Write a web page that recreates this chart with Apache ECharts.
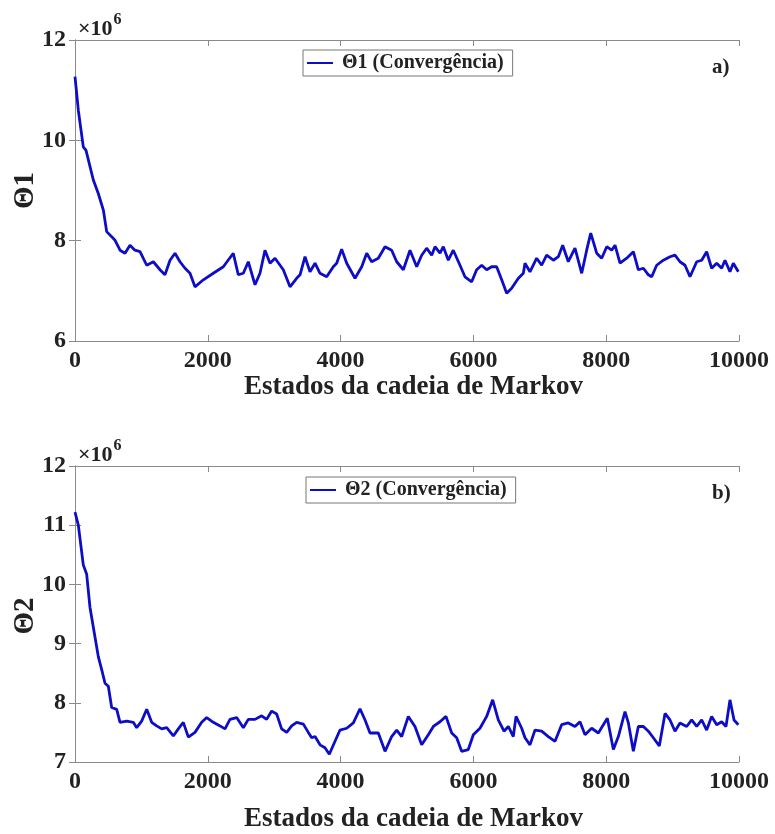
<!DOCTYPE html>
<html>
<head>
<meta charset="utf-8">
<script src="https://cdn.jsdelivr.net/npm/echarts@6/dist/echarts.min.js"></script>
<style>
  html, body { margin: 0; padding: 0; background: #fff; }
  #chart { width: 775px; height: 834px; }
</style>
</head>
<body>
<div id="chart"></div>
<script>
// Markov chain states (x) and parameter traces (values in units of 1e6)
const theta1States = [0, 50, 125, 166, 276, 351, 427, 477, 552, 602, 678, 753, 828, 903, 979, 1080, 1180, 1280, 1355, 1431, 1506, 1581, 1657, 1732, 1807, 1933, 2083, 2234, 2384, 2459, 2535, 2610, 2711, 2786, 2861, 2937, 3012, 3137, 3238, 3338, 3389, 3464, 3539, 3615, 3690, 3790, 3890, 3941, 4016, 4092, 4217, 4318, 4393, 4468, 4568, 4669, 4769, 4845, 4945, 5045, 5146, 5221, 5296, 5372, 5422, 5497, 5547, 5622, 5697, 5798, 5873, 5974, 6049, 6125, 6200, 6275, 6350, 6426, 6501, 6576, 6677, 6752, 6777, 6852, 6953, 7028, 7103, 7204, 7279, 7345, 7429, 7530, 7631, 7706, 7767, 7857, 7932, 8008, 8083, 8133, 8208, 8309, 8409, 8484, 8560, 8635, 8685, 8760, 8861, 8961, 9036, 9111, 9187, 9262, 9363, 9438, 9513, 9588, 9664, 9739, 9789, 9864, 9914, 9990];
const theta1Values = [11.27, 10.6, 9.87, 9.8, 9.21, 8.94, 8.61, 8.18, 8.08, 8.01, 7.81, 7.75, 7.91, 7.81, 7.78, 7.51, 7.58, 7.42, 7.32, 7.61, 7.75, 7.58, 7.45, 7.35, 7.08, 7.22, 7.35, 7.48, 7.75, 7.32, 7.35, 7.58, 7.12, 7.35, 7.81, 7.55, 7.65, 7.42, 7.08, 7.25, 7.32, 7.68, 7.38, 7.55, 7.35, 7.28, 7.48, 7.55, 7.83, 7.55, 7.25, 7.48, 7.75, 7.58, 7.65, 7.88, 7.81, 7.58, 7.42, 7.81, 7.48, 7.71, 7.85, 7.71, 7.88, 7.75, 7.88, 7.61, 7.81, 7.51, 7.28, 7.18, 7.42, 7.51, 7.42, 7.48, 7.48, 7.22, 6.95, 7.05, 7.25, 7.35, 7.55, 7.38, 7.65, 7.51, 7.71, 7.61, 7.68, 7.91, 7.58, 7.85, 7.35, 7.81, 8.15, 7.75, 7.65, 7.88, 7.81, 7.91, 7.55, 7.65, 7.78, 7.42, 7.45, 7.32, 7.28, 7.51, 7.61, 7.68, 7.71, 7.58, 7.51, 7.28, 7.58, 7.61, 7.78, 7.45, 7.55, 7.45, 7.61, 7.38, 7.55, 7.38];

const theta2States = [0, 50, 125, 176, 226, 301, 351, 402, 452, 502, 552, 628, 678, 778, 878, 929, 1004, 1080, 1155, 1230, 1306, 1381, 1481, 1556, 1631, 1707, 1807, 1908, 1983, 2083, 2184, 2259, 2334, 2435, 2535, 2610, 2711, 2811, 2886, 2962, 3037, 3112, 3188, 3263, 3338, 3439, 3514, 3565, 3615, 3690, 3765, 3830, 3916, 3991, 4092, 4192, 4292, 4368, 4443, 4568, 4669, 4769, 4845, 4920, 5020, 5120, 5221, 5321, 5397, 5497, 5587, 5673, 5748, 5823, 5923, 5999, 6099, 6200, 6290, 6375, 6461, 6526, 6601, 6642, 6727, 6777, 6852, 6928, 7028, 7128, 7229, 7329, 7429, 7530, 7605, 7681, 7781, 7882, 7957, 8017, 8108, 8183, 8283, 8334, 8409, 8484, 8560, 8635, 8710, 8800, 8886, 8961, 9036, 9111, 9212, 9287, 9363, 9438, 9513, 9588, 9664, 9739, 9804, 9864, 9925, 9990];
const theta2Values = [11.22, 11.0, 10.33, 10.17, 9.61, 9.11, 8.78, 8.56, 8.33, 8.28, 7.92, 7.89, 7.67, 7.69, 7.67, 7.58, 7.69, 7.89, 7.67, 7.61, 7.56, 7.58, 7.44, 7.56, 7.67, 7.42, 7.5, 7.67, 7.75, 7.67, 7.61, 7.56, 7.72, 7.75, 7.58, 7.72, 7.72, 7.78, 7.72, 7.86, 7.81, 7.56, 7.5, 7.61, 7.67, 7.64, 7.5, 7.41, 7.43, 7.29, 7.24, 7.13, 7.35, 7.54, 7.57, 7.66, 7.9, 7.71, 7.49, 7.49, 7.18, 7.43, 7.54, 7.43, 7.77, 7.6, 7.29, 7.46, 7.6, 7.68, 7.77, 7.49, 7.41, 7.18, 7.21, 7.46, 7.57, 7.77, 8.05, 7.71, 7.52, 7.6, 7.43, 7.77, 7.57, 7.41, 7.29, 7.54, 7.52, 7.43, 7.35, 7.63, 7.66, 7.6, 7.68, 7.46, 7.57, 7.49, 7.63, 7.74, 7.21, 7.43, 7.85, 7.66, 7.18, 7.6, 7.6, 7.52, 7.41, 7.27, 7.82, 7.71, 7.52, 7.66, 7.6, 7.71, 7.6, 7.71, 7.54, 7.77, 7.63, 7.68, 7.6, 8.05, 7.71, 7.63];

const xTicks = [0, 2000, 4000, 6000, 8000, 10000];
const theta1Ticks = [6, 8, 10, 12];
const theta2Ticks = [7, 8, 9, 10, 11, 12];
const xAxisTitle = 'Estados da cadeia de Markov';
const yAxisTitles = ['\u03981', '\u03982'];
const legendNames = ['\u03981 (Converg\u00eancia)', '\u03982 (Converg\u00eancia)'];
const panelTags = ['a)', 'b)'];

const SERIF = '"Liberation Serif", "Times New Roman", serif';
const AXIS_GRAY = '#8a8a8a';
const TEXT = '#222';
const LINE_BLUE = '#0d0dc6';

function pairs(xs, ys) { return xs.map((x, i) => [x, ys[i]]); }

const grids = [
  { left: 75, top: 40, width: 664, height: 301 },
  { left: 75, top: 466, width: 664, height: 300 }
];

function bottomX(gi, gap) {
  return {
    type: 'value', gridIndex: gi, position: 'bottom',
    min: xTicks[0], max: xTicks[xTicks.length - 1], interval: xTicks[1] - xTicks[0],
    name: xAxisTitle, nameLocation: 'middle', nameGap: gap,
    nameTextStyle: { fontFamily: SERIF, fontWeight: 'bold', fontSize: 27, color: TEXT, padding: [0, 0, 0, 13] },
    axisLine: { show: true, lineStyle: { color: AXIS_GRAY, width: 1 } },
    axisTick: { show: true, inside: true, length: 6, lineStyle: { color: AXIS_GRAY } },
    axisLabel: { fontFamily: SERIF, fontWeight: 'bold', fontSize: 24, color: TEXT, margin: 8,
                 formatter: (v) => String(v) },
    splitLine: { show: false }
  };
}
function topX(gi) {
  return {
    type: 'value', gridIndex: gi, position: 'top',
    min: xTicks[0], max: xTicks[xTicks.length - 1], interval: xTicks[1] - xTicks[0],
    axisLine: { show: true, lineStyle: { color: AXIS_GRAY, width: 1 } },
    axisTick: { show: true, inside: true, length: 6, lineStyle: { color: AXIS_GRAY } },
    axisLabel: { show: false }, splitLine: { show: false }
  };
}
function leftY(gi, ticks) {
  return {
    type: 'value', gridIndex: gi, position: 'left',
    min: ticks[0], max: ticks[ticks.length - 1], interval: ticks[1] - ticks[0],
    axisLine: { show: true, lineStyle: { color: AXIS_GRAY, width: 1 } },
    axisTick: { show: true, inside: true, length: 6, lineStyle: { color: AXIS_GRAY } },
    axisLabel: { fontFamily: SERIF, fontWeight: 'bold', fontSize: 24, color: TEXT, margin: 9 },
    splitLine: { show: false }
  };
}
function rightY(gi, ticks) {
  return {
    type: 'value', gridIndex: gi, position: 'right',
    min: ticks[0], max: ticks[ticks.length - 1], interval: ticks[1] - ticks[0],
    axisLine: { show: true, lineStyle: { color: AXIS_GRAY, width: 1 } },
    axisTick: { show: true, inside: true, length: 6, lineStyle: { color: AXIS_GRAY } },
    axisLabel: { show: false }, splitLine: { show: false }
  };
}

// rotated y-axis titles, centred on each plot's vertical middle
const yTitle = (text, g) => ({
  type: 'text', x: 26, y: g.top + g.height / 2, rotation: Math.PI / 2,
  style: { text: text, fontFamily: SERIF, fontWeight: 'bold', fontSize: 29, fill: TEXT,
           textAlign: 'center', textVerticalAlign: 'middle' }
});

const exponentLabel = (top) => ({
  left: 73, top: top,
  text: '{b|\u00d710}{s|6}',
  textStyle: {
    rich: {
      b: { fontFamily: SERIF, fontSize: 22, color: TEXT, verticalAlign: 'bottom', lineHeight: 28 },
      s: { fontFamily: SERIF, fontSize: 16, color: TEXT, verticalAlign: 'top', lineHeight: 28, padding: [0, 0, 12, 1] }
    }
  }
});

const legendBox = (name, left, top) => ({
  data: [name], left: left, top: top,
  backgroundColor: '#fff', borderColor: '#777', borderWidth: 1, padding: [3, 9, 3, 4],
  itemWidth: 26, itemHeight: 2, icon: 'rect', itemGap: 4,
  textStyle: { fontFamily: SERIF, fontWeight: 'bold', fontSize: 20, lineHeight: 20, color: TEXT, padding: [0, 0, 0, 4] }
});

const option = {
  animation: false,
  backgroundColor: '#fff',
  grid: grids,
  title: [
    exponentLabel(7),
    exponentLabel(433),
    { left: 707, top: 52, text: panelTags[0], textStyle: { fontFamily: SERIF, fontWeight: 'bold', fontSize: 21, color: TEXT } },
    { left: 707, top: 478, text: panelTags[1], textStyle: { fontFamily: SERIF, fontWeight: 'bold', fontSize: 21, color: TEXT } }
  ],
  graphic: [yTitle(yAxisTitles[0], grids[0]), yTitle(yAxisTitles[1], grids[1])],
  legend: [
    legendBox(legendNames[0], 303, 50),
    legendBox(legendNames[1], 306, 477)
  ],
  xAxis: [bottomX(0, 32), topX(0), bottomX(1, 44), topX(1)],
  yAxis: [leftY(0, theta1Ticks), rightY(0, theta1Ticks), leftY(1, theta2Ticks), rightY(1, theta2Ticks)],
  series: [
    {
      name: legendNames[0], type: 'line', xAxisIndex: 0, yAxisIndex: 0,
      data: pairs(theta1States, theta1Values), showSymbol: false,
      lineStyle: { color: LINE_BLUE, width: 2.8 }, itemStyle: { color: LINE_BLUE }
    },
    {
      name: legendNames[1], type: 'line', xAxisIndex: 2, yAxisIndex: 2,
      data: pairs(theta2States, theta2Values), showSymbol: false,
      lineStyle: { color: LINE_BLUE, width: 2.8 }, itemStyle: { color: LINE_BLUE }
    }
  ]
};

const chart = echarts.init(document.getElementById('chart'), null, { renderer: 'canvas' });
chart.setOption(option);
</script>
</body>
</html>
